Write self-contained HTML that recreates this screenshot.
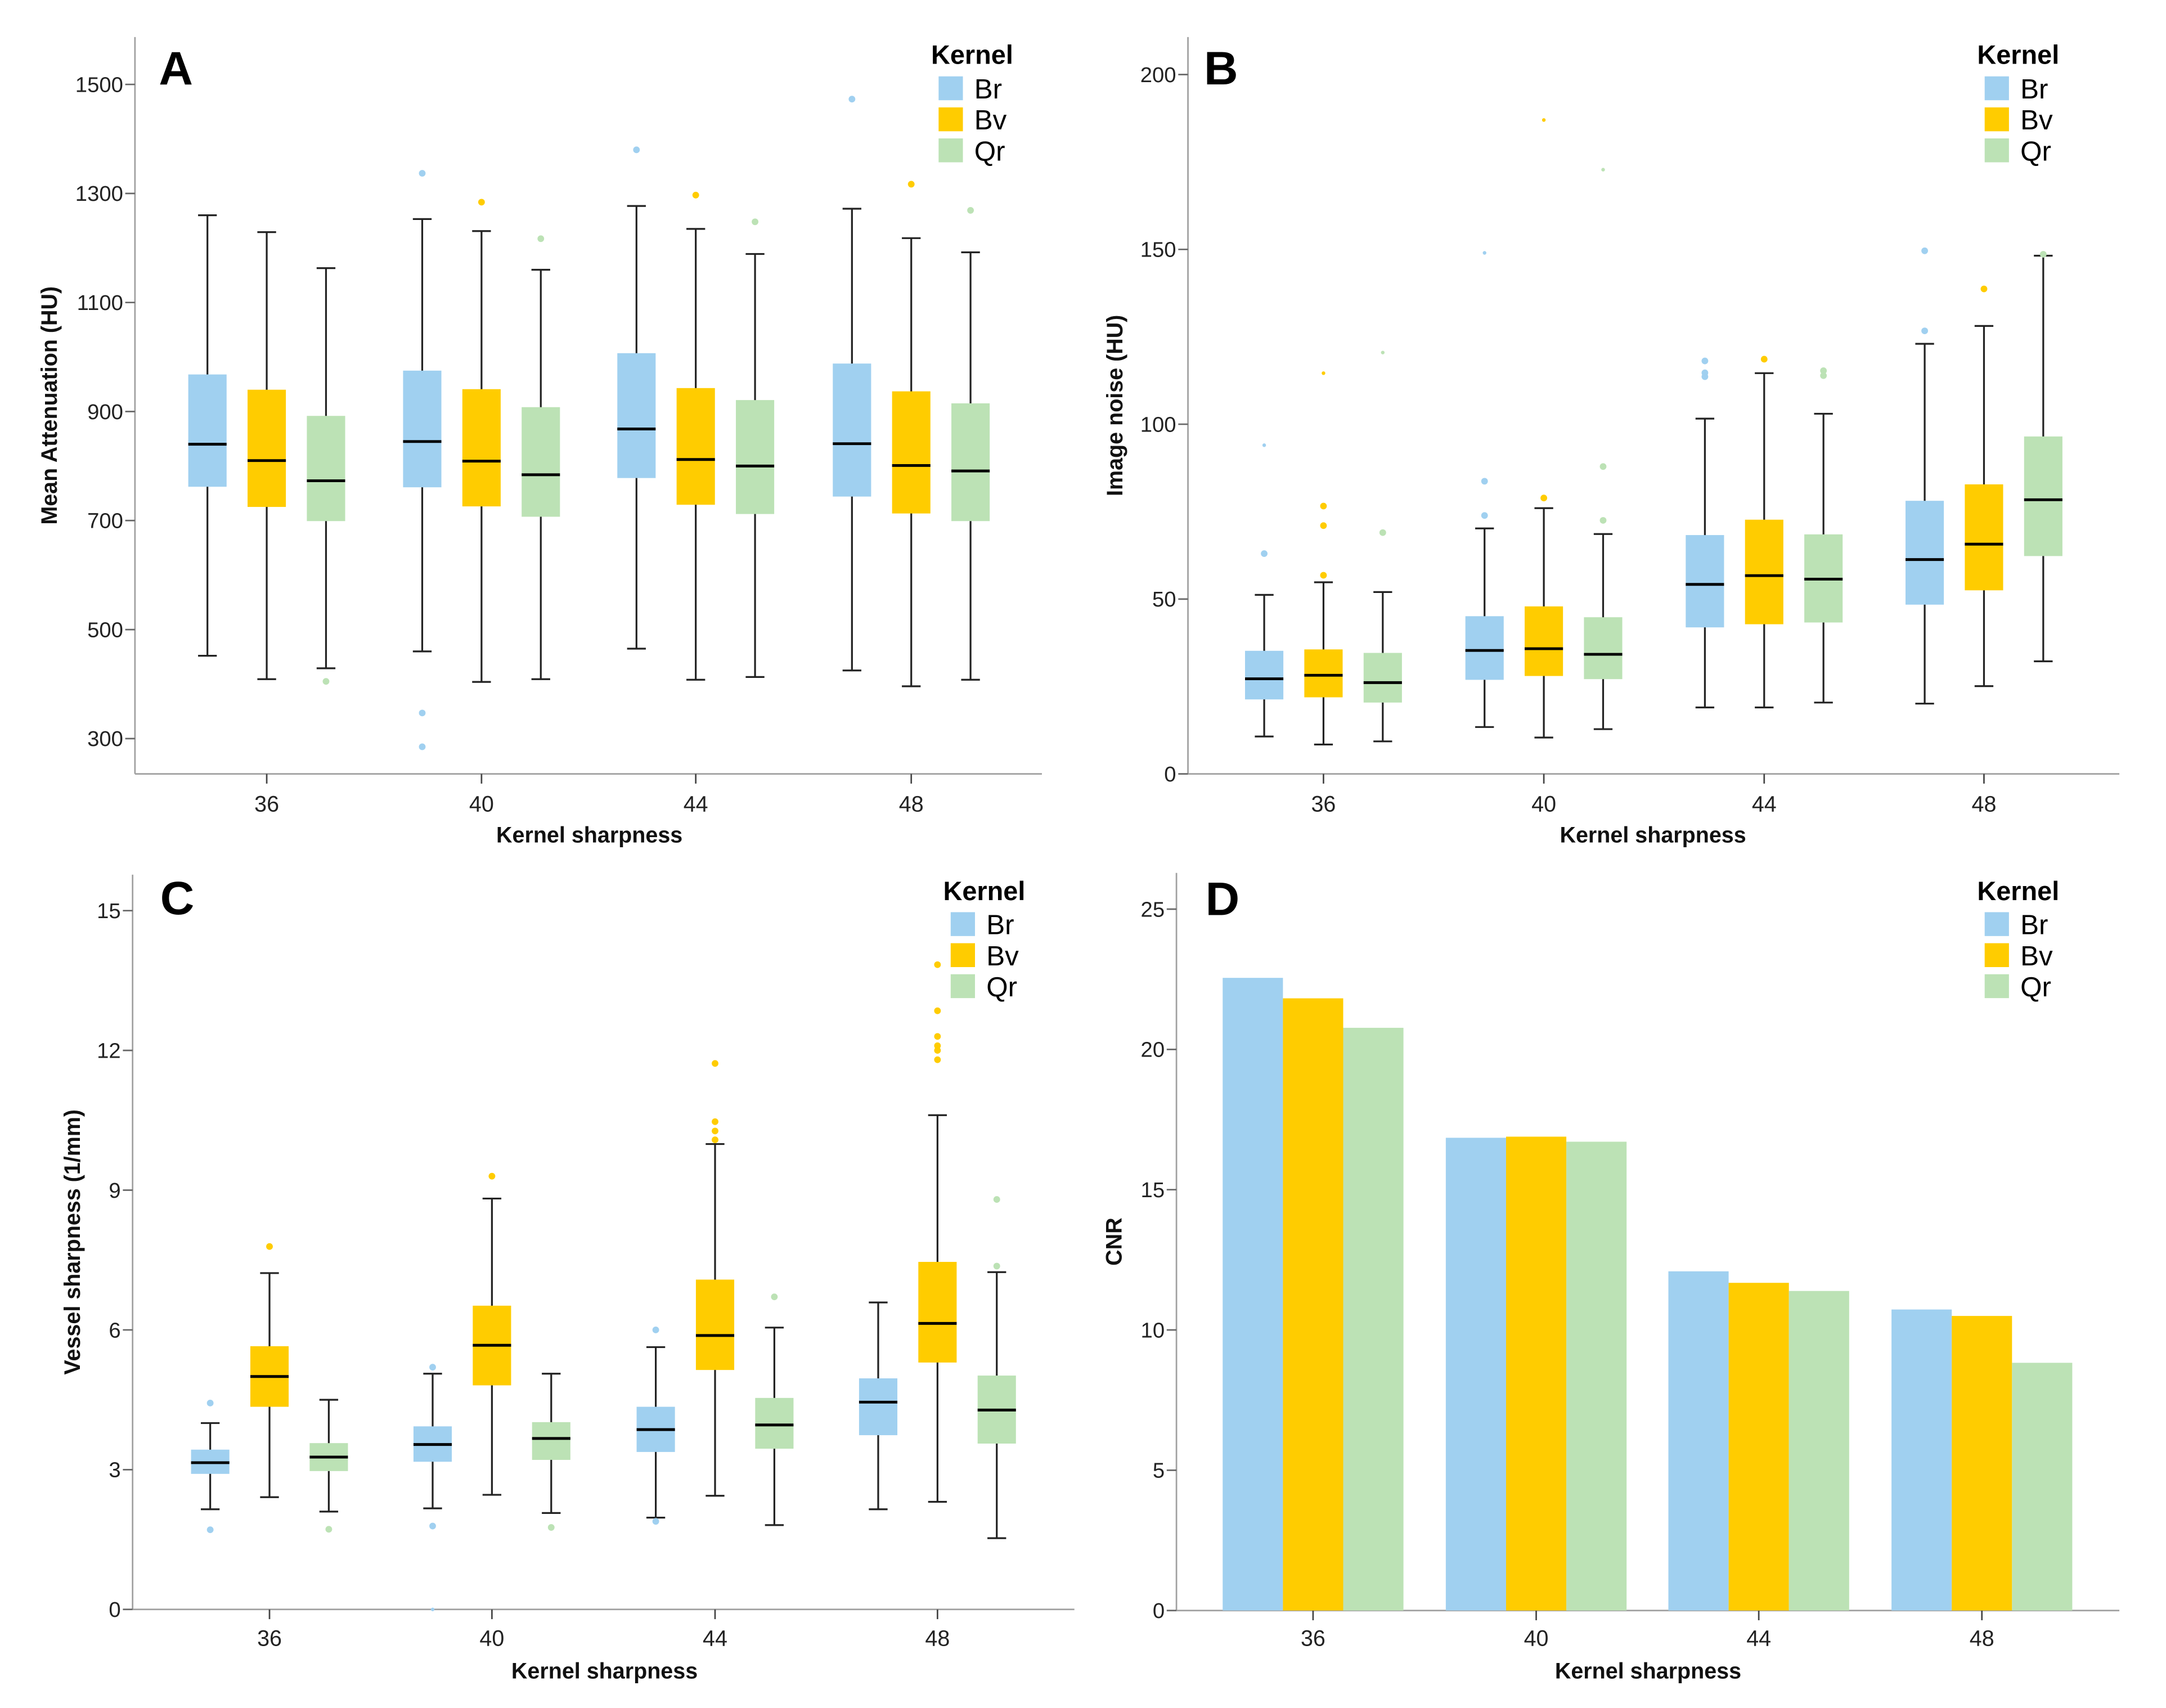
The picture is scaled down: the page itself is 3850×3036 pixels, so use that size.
<!DOCTYPE html>
<html><head><meta charset="utf-8"><style>
html,body{margin:0;padding:0;background:#fff;}
svg{display:block;font-family:"Liberation Sans",Arial,sans-serif;}
</style></head><body>
<svg id="fig" width="3850" height="3036" viewBox="0 0 1560 1230.2" preserveAspectRatio="none" xmlns="http://www.w3.org/2000/svg"></svg>
<script>
const categories = ["36","40","44","48"];
const kernels = ["Br","Bv","Qr"];
const colors = ["#a0d0f0","#ffcc00","#bce2b5"];

// Panel A: Mean Attenuation (HU) [category][kernel]
const aLow  = [[452,409,429],[460,404,409],[465,408,413],[425,396,408]];
const aQ1   = [[762,725,699],[761,726,707],[778,729,712],[744,713,699]];
const aMed  = [[840,810,773],[845,809,784],[868,812,800],[841,801,791]];
const aQ3   = [[968,940,892],[975,941,908],[1007,943,921],[988,937,915]];
const aHigh = [[1260,1229,1163],[1253,1231,1160],[1277,1235,1189],[1272,1218,1192]];
const aOut  = [[[],[],[405]],[[1337,347,285],[1284],[1217]],[[1380],[1297],[1248]],[[1473],[1317],[1269]]];
const aStar = [[[],[],[]],[[],[],[]],[[],[],[]],[[],[],[]]];
const aTicks = [300,500,700,900,1100,1300,1500];

// Panel B: Image noise (HU)
const bLow  = [[10.7,8.4,9.3],[13.4,10.4,12.8],[19,19,20.4],[20.1,25.1,32.2]];
const bQ1   = [[21.3,21.9,20.4],[26.9,28,27.1],[41.9,42.8,43.3],[48.4,52.5,62.3]];
const bMed  = [[27.2,28.2,26.1],[35.3,35.8,34.2],[54.2,56.7,55.7],[61.3,65.7,78.4]];
const bQ3   = [[35.2,35.6,34.6],[45.1,47.9,44.8],[68.3,72.7,68.5],[78.1,82.8,96.5]];
const bHigh = [[51.2,54.8,52],[70.2,76,68.6],[101.6,114.6,103],[123,128.1,148.2]];
const bOut  = [[[63],[56.8,71,76.6],[69]],[[73.9,83.7],[78.9],[72.5,87.9]],[[113.6,114.7,118.1],[118.6],[113.9,115.3]],[[126.7,149.6],[138.7],[148.6]]];
const bStar = [[[94],[114.6],[120.5]],[[149],[187],[172.8]],[[],[],[]],[[],[],[]]];
const bTicks = [0,50,100,150,200];

// Panel C: Vessel sharpness (1/mm)
const cLow  = [[2.15,2.41,2.1],[2.17,2.46,2.07],[1.97,2.44,1.81],[2.15,2.31,1.53]];
const cQ1   = [[2.91,4.35,2.97],[3.17,4.81,3.21],[3.38,5.14,3.45],[3.74,5.3,3.56]];
const cMed  = [[3.15,5.0,3.27],[3.54,5.67,3.67],[3.86,5.88,3.96],[4.45,6.14,4.28]];
const cQ3   = [[3.43,5.65,3.57],[3.93,6.52,4.02],[4.35,7.08,4.54],[4.96,7.46,5.02]];
const cHigh = [[4.0,7.22,4.5],[5.06,8.82,5.06],[5.63,9.99,6.05],[6.59,10.61,7.24]];
const cOut  = [[[4.43,1.71],[7.79],[1.72]],[[5.2,1.79],[9.3],[1.76]],[[6.0,1.89],[11.72,10.47,10.27,10.08],[6.71]],[[],[13.84,12.85,12.3,12.1,12.0,11.8],[8.8,7.37]]];
const cStar = [[[],[],[]],[[0],[],[]],[[],[],[]],[[],[],[]]];
const cTicks = [0,3,6,9,12,15];

// Panel D: CNR
const dBr = [22.55,16.85,12.09,10.73];
const dBv = [21.82,16.89,11.68,10.5];
const dQr = [20.77,16.71,11.39,8.83];
const dTicks = [0,5,10,15,20,25];

const NS="http://www.w3.org/2000/svg";
const svg=document.getElementById('fig');
function mk(tag,attrs,parent,text){const e=document.createElementNS(NS,tag);for(const k in attrs)e.setAttribute(k,attrs[k]);if(text!==undefined)e.textContent=text;(parent||svg).appendChild(e);return e;}

const panels=[
 {id:'a',letter:'A',ax:97.2,top:26.7,bot:557.4,right:750.4,v0:300,y0:532.0,v1:1500,y1:60.8,cats:[192.1,346.8,501.1,656.3],ticks:aTicks,ytitle:'Mean Attenuation (HU)',ytx:35.6,xtx:424.5,xtb:606.8,xlb:584.6,legX:676,legY:55,kernelY:45.9,letterX:114.4,letterY:60.8,
  low:aLow,q1:aQ1,med:aMed,q3:aQ3,high:aHigh,out:aOut,star:aStar},
 {id:'b',letter:'B',ax:855.6,top:26.7,bot:557.4,right:1526.4,v0:0,y0:557.4,v1:200,y1:53.7,cats:[953.2,1111.9,1270.6,1428.9],ticks:bTicks,ytitle:'Image noise (HU)',ytx:803,xtx:1190.5,xtb:606.8,xlb:584.6,legX:1429.4,legY:55,kernelY:45.9,letterX:867.1,letterY:60.8,
  low:bLow,q1:bQ1,med:bMed,q3:bQ3,high:bHigh,out:bOut,star:bStar},
 {id:'c',letter:'C',ax:95.5,top:630,bot:1159.2,right:773.8,v0:0,y0:1159.2,v1:15,y1:655.9,cats:[194.1,354.3,515.0,675.2],ticks:cTicks,ytitle:'Vessel sharpness (1/mm)',ytx:52.2,xtx:435.4,xtb:1209,xlb:1185.5,legX:684.7,legY:657,kernelY:648.4,letterX:115.4,letterY:658.5,
  low:cLow,q1:cQ1,med:cMed,q3:cQ3,high:cHigh,out:cOut,star:cStar},
 {id:'d',letter:'D',ax:847.3,top:628.7,bot:1160,right:1526.4,v0:0,y0:1160,v1:25,y1:654.8,cats:[945.7,1106.4,1266.7,1427.4],ticks:dTicks,ytitle:'CNR',ytx:802.4,xtx:1187,xtb:1209,xlb:1185.5,legX:1429.4,legY:657,kernelY:648.4,letterX:868.2,letterY:659.1,bars:[dBr,dBv,dQr]}
];

panels.forEach(p=>{
  const g=mk('g',{});
  
  
  const ys=v=>p.y0+(v-p.v0)*(p.y1-p.y0)/(p.v1-p.v0);
  // axes
  const yax=mk('line',{x1:p.ax,y1:p.top,x2:p.ax,y2:p.bot,stroke:'#a0a0a0','stroke-width':1.1},g);
  
  
  const xax=mk('line',{x1:p.ax,y1:p.bot,x2:p.right,y2:p.bot,stroke:'#a0a0a0','stroke-width':1.1},g);
  
  
  p.ticks.forEach(t=>{
    const y=ys(t);
    mk('line',{x1:p.ax-7,y1:y,x2:p.ax,y2:y,stroke:'#666','stroke-width':1.1},g);
    const tl=mk('text',{x:p.ax-8.5,y:y+5.4,'text-anchor':'end','font-size':15.5,fill:'#222'},g,String(t));
    
    
  });
  p.cats.forEach((cx,i)=>{
    mk('line',{x1:cx,y1:p.bot,x2:cx,y2:p.bot+7,stroke:'#444','stroke-width':1.1},g);
    const tl=mk('text',{x:cx,y:p.xlb,'text-anchor':'middle','font-size':16,fill:'#222'},g,categories[i]);
    
    
  });
  const xt=mk('text',{x:p.xtx,y:p.xtb,'text-anchor':'middle','font-size':16,'font-weight':'bold',fill:'#111'},g,'Kernel sharpness');
  
  
  const ymid=(p.top+p.bot)/2;
  const yt=mk('text',{x:p.ytx,y:ymid,'text-anchor':'middle','dominant-baseline':'central','font-size':16,'font-weight':'bold',fill:'#111',transform:`rotate(-90 ${p.ytx} ${ymid})`},g,p.ytitle);
  
  
  const lt=mk('text',{x:p.letterX,y:p.letterY,'font-size':34,'font-weight':'bold',fill:'#000'},g,p.letter);
  
  

  if(p.bars){
    const bw=43.4;
    p.bars.forEach((arr,k)=>{
      arr.forEach((v,i)=>{
        const x=p.cats[i]+(k-1.5)*bw;
        const r=mk('rect',{x:x,y:ys(v),width:bw,height:p.bot-ys(v),fill:colors[k]},g);
        
        
      });
    });
  } else {
    const off=42.7,bw=27.6,cap=13.5;
    for(let i=0;i<4;i++)for(let k=0;k<3;k++){
      const cx=p.cats[i]+(k-1)*off;
      const bg=mk('g',{},g);
      
      
      const yl=ys(p.low[i][k]),yh=ys(p.high[i][k]),y1=ys(p.q1[i][k]),y3=ys(p.q3[i][k]),ym=ys(p.med[i][k]);
      mk('line',{x1:cx,y1:yh,x2:cx,y2:yl,stroke:'#222','stroke-width':1.3},bg);
      mk('line',{x1:cx-cap/2,y1:yh,x2:cx+cap/2,y2:yh,stroke:'#222','stroke-width':1.3},bg);
      mk('line',{x1:cx-cap/2,y1:yl,x2:cx+cap/2,y2:yl,stroke:'#222','stroke-width':1.3},bg);
      mk('rect',{x:cx-bw/2,y:y3,width:bw,height:y1-y3,fill:colors[k]},bg);
      mk('line',{x1:cx-bw/2,y1:ym,x2:cx+bw/2,y2:ym,stroke:'#000','stroke-width':2},bg);
      p.out[i][k].forEach(v=>{
        const c=mk('circle',{cx:cx,cy:ys(v),r:2.4,fill:colors[k]},bg);
        
        
      });
      p.star[i][k].forEach(v=>{
        const c=mk('circle',{cx:cx,cy:ys(v),r:1.3,fill:colors[k]},bg);
        
        
      });
    }
  }
  // legend
  const lg=mk('g',{},g);
  
  
  const kt=mk('text',{x:p.legX-5.4,y:p.kernelY,'font-size':19,'font-weight':'bold',fill:'#000'},lg,'Kernel');
  
  
  kernels.forEach((kn,k)=>{
    const y=p.legY+k*22.35;
    const s=mk('rect',{x:p.legX,y:y,width:17.5,height:17.2,fill:colors[k]},lg);
    
    
    const t=mk('text',{x:p.legX+25.7,y:y+15.9,'font-size':20,fill:'#000'},lg,kn);
    
    
  });
});
</script>
</body></html>
